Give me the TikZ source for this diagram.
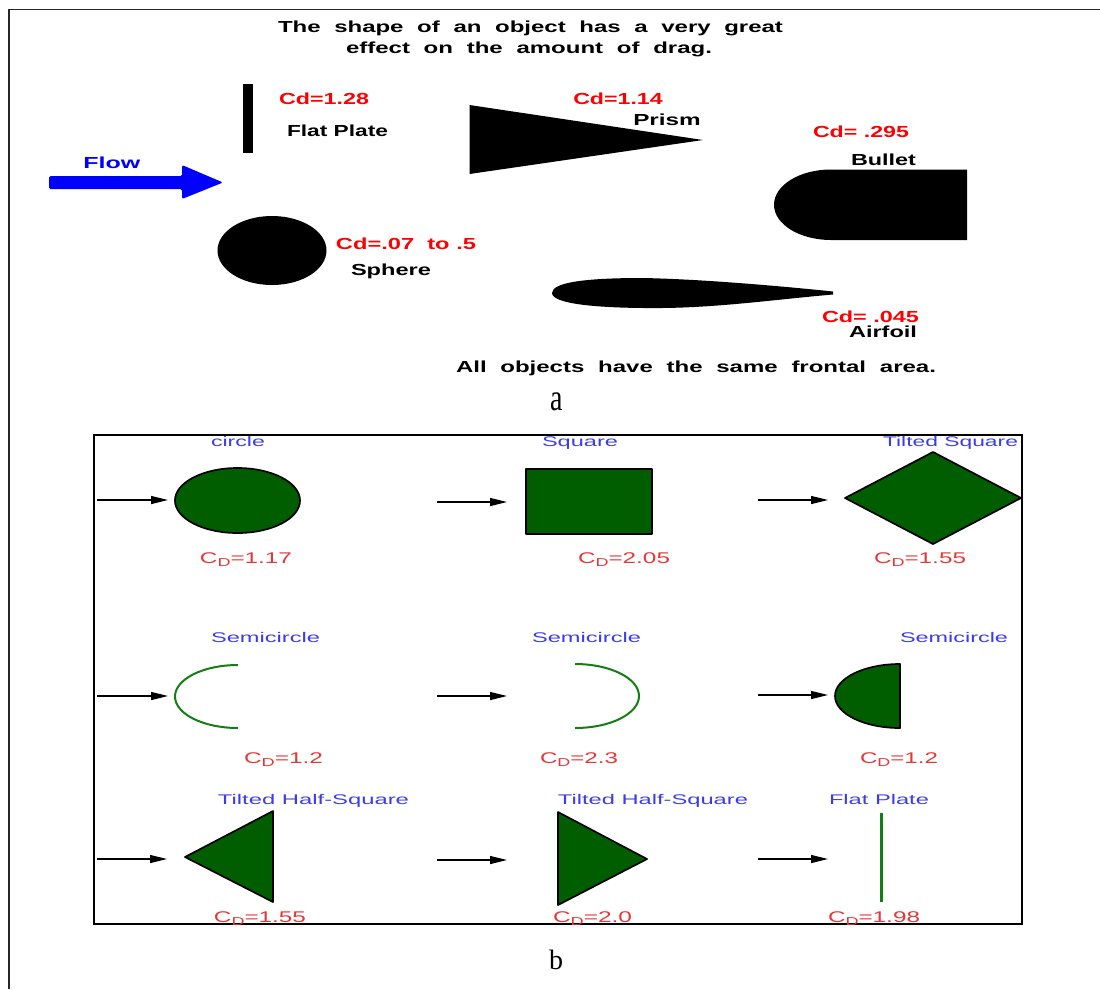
\documentclass[tikz,border=0pt]{standalone}
\usepackage{fontspec}
\setmainfont{Liberation Serif}
\newfontfamily\arial{Liberation Sans}
\usetikzlibrary{arrows.meta}

\definecolor{cdred}{RGB}{255,0,0}
\definecolor{flowblue}{RGB}{0,0,255}
\definecolor{capblue}{RGB}{60,60,235}
\definecolor{capred}{RGB}{228,55,55}
\definecolor{bodygreen}{RGB}{0,94,0}
\definecolor{linegreen}{RGB}{20,125,20}

% stretch a text horizontally to a given width, keeping its height
\newcommand{\fitw}[2]{\resizebox{#1}{\height}{#2}}
% C with a lowered D
\newcommand{\cdsub}{C\raisebox{-3.5pt}{\fontsize{11.5}{11.5}\selectfont D}}

\tikzset{
  boldtxt/.style={anchor=base, inner sep=0pt, font=\arial\bfseries\fontsize{16}{16}\selectfont},
  cdtxt/.style={boldtxt, text=cdred},
  nametxt/.style={boldtxt, text=black},
  headtxt/.style={anchor=base, inner sep=0pt, font=\arial\bfseries\fontsize{16}{16}\selectfont},
  bluetxt/.style={anchor=base, inner sep=0pt, text=capblue, font=\arial\fontsize{14}{14}\selectfont},
  redtxt/.style={anchor=base, inner sep=0pt, text=capred, font=\arial\fontsize{15.5}{15.5}\selectfont},
  captxt/.style={anchor=base, inner sep=0pt, font=\fontsize{28}{28}\selectfont},
  blackbody/.style={fill=black, draw=none},
  greenbody/.style={fill=bodygreen, draw=black, line width=1.7pt, line join=round},
  openarc/.style={draw=linegreen, line width=2pt},
  windarrow/.style={-{Triangle[length=17pt,width=8pt]}, line width=1.3pt},
}

\begin{document}
\begin{tikzpicture}[x=1pt, y=-1pt]
\useasboundingbox (0,0) rectangle (1100,989);

% ---------- outer frame ----------
\draw[line width=1.5pt, draw=black!85] (1100,9.3) -- (8.8,9.3) -- (8.8,989);

% ---------- part a ----------
\node[headtxt] (title1) at (530.5,32) {\fitw{505pt}{\makebox[337pt][s]{The shape of an object has a very great}}};
\node[headtxt] (title2) at (529,53) {\fitw{366pt}{\makebox[244pt][s]{effect on the amount of drag.}}};

% flow arrow
\fill[flowblue, rounded corners=1.5pt] (49,176) -- (182,176) -- (182,165) -- (223,182.5)
  -- (182,199) -- (182,189) -- (49,189) -- cycle;
\node[boldtxt, text=flowblue] (flow) at (111.75,168) {\fitw{57pt}{Flow}};

% flat plate
\fill[blackbody] (243,84) rectangle (253,153);
\node[cdtxt] (cdplate) at (324,104) {\fitw{90pt}{Cd=1.28}};
\node[nametxt] (plate) at (337.5,136) {\fitw{101pt}{Flat Plate}};

% sphere
\fill[blackbody] (272,250.5) ellipse [x radius=54.5pt, y radius=34.5pt];
\node[cdtxt] (cdsphere) at (406,249) {\fitw{140pt}{Cd=.07\ \ to .5}};
\node[nametxt] (sphere) at (391,275) {\fitw{80pt}{Sphere}};

% prism
\fill[blackbody] (469.5,105) -- (703,140) -- (469.5,174) -- cycle;
\node[cdtxt] (cdprism) at (618,104) {\fitw{89.5pt}{Cd=1.14}};
\node[nametxt] (prism) at (667,125) {\fitw{67.5pt}{Prism}};

% bullet
\fill[blackbody] (967,169.5) -- (831,169.5)
  arc [start angle=90, end angle=270, x radius=57pt, y radius=35.25pt]
  -- (967,240) -- cycle;
\node[cdtxt] (cdbullet) at (861,137) {\fitw{96pt}{Cd= .295}};
\node[nametxt] (bullet) at (883.5,165) {\fitw{65pt}{Bullet}};

% airfoil
\fill[blackbody] (552,293) .. controls (552,282) and (588,278) .. (642,278)
  .. controls (700,279) and (780,286) .. (833,291.5) -- (833,294.5)
  .. controls (780,299) and (720,307.5) .. (662,308)
  .. controls (598,308.5) and (552,304) .. (552,293) -- cycle;
\node[cdtxt] (cdfoil) at (870.5,322) {\fitw{97pt}{Cd= .045}};
\node[nametxt] (foil) at (883,337) {\fitw{68pt}{Airfoil}};

\node[headtxt] (note) at (696,372) {\fitw{480pt}{\makebox[320pt][s]{All objects have the same frontal area.}}};
\node[captxt] (capa) at (557,410) {\scalebox{1}[1.35]{a}};

% ---------- part b ----------
\draw[line width=2pt] (94,435) rectangle (1022,924);

% row 1
\coordinate (r1s1) at (97,500);  \coordinate (r1e1) at (168,500);
\coordinate (r1s2) at (437,502); \coordinate (r1e2) at (507,502);
\coordinate (r1s3) at (758,500); \coordinate (r1e3) at (828,500);
\draw[windarrow] (r1s1) -- (r1e1);
\draw[windarrow] (r1s2) -- (r1e2);
\draw[windarrow] (r1s3) -- (r1e3);

\draw[greenbody] (237.5,500.5) ellipse [x radius=62.5pt, y radius=32.5pt];
\draw[greenbody] (526,469) rectangle (652,534);
\draw[greenbody] (845,498) -- (933,452) -- (1021,498) -- (933,544) -- cycle;

\node[bluetxt] (n11) at (238,446) {\fitw{54pt}{circle}};
\node[bluetxt] (n12) at (580,446) {\fitw{76pt}{Square}};
\node[bluetxt] (n13) at (950.5,446) {\fitw{135pt}{Tilted Square}};
\node[redtxt] (c11) at (246,563) {\fitw{92pt}{\cdsub=1.17}};
\node[redtxt] (c12) at (624,563) {\fitw{92pt}{\cdsub=2.05}};
\node[redtxt] (c13) at (920,563) {\fitw{92pt}{\cdsub=1.55}};

% row 2
\coordinate (r2s1) at (97,696);  \coordinate (r2e1) at (168,696);
\coordinate (r2s2) at (437,696); \coordinate (r2e2) at (507,696);
\coordinate (r2s3) at (758,695); \coordinate (r2e3) at (828,695);
\draw[windarrow] (r2s1) -- (r2e1);
\draw[windarrow] (r2s2) -- (r2e2);
\draw[windarrow] (r2s3) -- (r2e3);

\draw[openarc] (238,665) arc [start angle=90, end angle=270, x radius=63pt, y radius=31.5pt];
\draw[openarc] (575,664) arc [start angle=90, end angle=-90, x radius=64pt, y radius=32pt];
\draw[greenbody] (900,664) arc [start angle=90, end angle=270, x radius=65pt, y radius=32pt] -- cycle;

\node[bluetxt] (n21) at (265.5,642) {\fitw{109pt}{Semicircle}};
\node[bluetxt] (n22) at (586.5,642) {\fitw{109pt}{Semicircle}};
\node[bluetxt] (n23) at (954,642) {\fitw{108pt}{Semicircle}};
\node[redtxt] (c21) at (283.5,763) {\fitw{79pt}{\cdsub=1.2}};
\node[redtxt] (c22) at (579,763) {\fitw{78pt}{\cdsub=2.3}};
\node[redtxt] (c23) at (899,763) {\fitw{78pt}{\cdsub=1.2}};

% row 3
\coordinate (r3s1) at (97,859);  \coordinate (r3e1) at (167,859);
\coordinate (r3s2) at (437,860); \coordinate (r3e2) at (507,860);
\coordinate (r3s3) at (758,859); \coordinate (r3e3) at (828,859);
\draw[windarrow] (r3s1) -- (r3e1);
\draw[windarrow] (r3s2) -- (r3e2);
\draw[windarrow] (r3s3) -- (r3e3);

\draw[greenbody] (185,857) -- (273,811) -- (273,902) -- cycle;
\draw[greenbody] (558,812) -- (558,905) -- (647,859) -- cycle;
\draw[draw=linegreen, line width=3pt] (881,813) -- (881,902);

\node[bluetxt] (n31) at (313.5,804) {\fitw{191pt}{Tilted Half-Square}};
\node[bluetxt] (n32) at (653,804) {\fitw{190pt}{Tilted Half-Square}};
\node[bluetxt] (n33) at (879,804) {\fitw{100pt}{Flat Plate}};
\node[redtxt] (c31) at (260,922) {\fitw{92pt}{\cdsub=1.55}};
\node[redtxt] (c32) at (592.5,922) {\fitw{79pt}{\cdsub=2.0}};
\node[redtxt] (c33) at (874,922) {\fitw{92pt}{\cdsub=1.98}};

\node[captxt] (capb) at (556,969) {b};
\end{tikzpicture}
\end{document}
